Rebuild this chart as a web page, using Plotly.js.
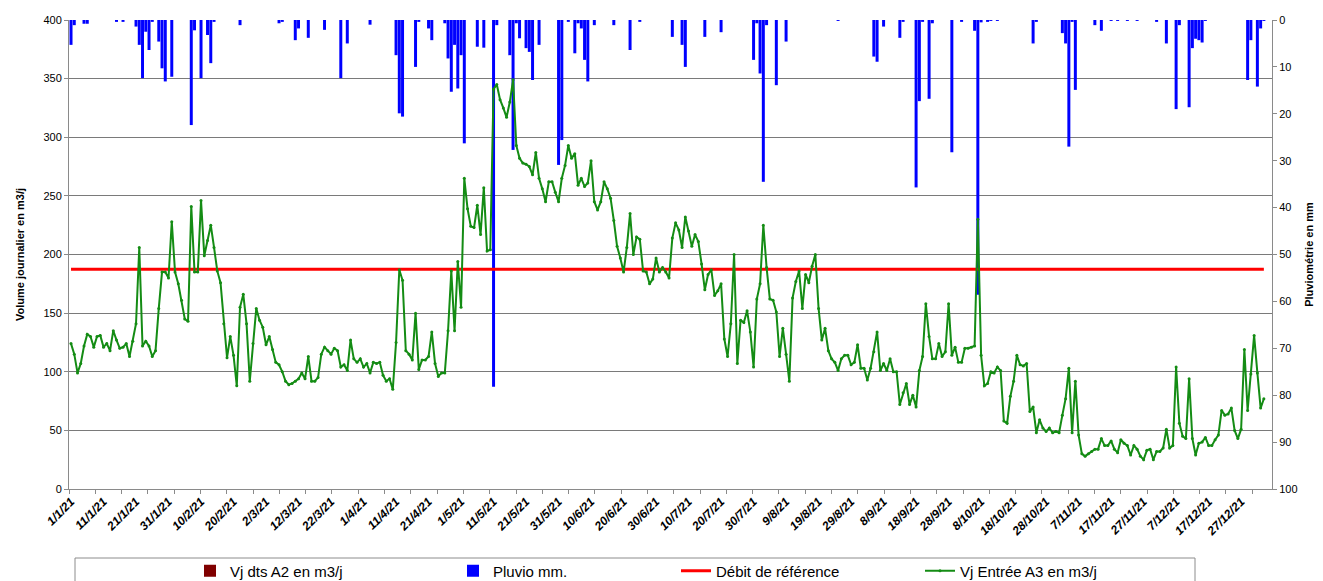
<!DOCTYPE html>
<html>
<head>
<meta charset="utf-8">
<script src="https://cdn.plot.ly/plotly-3.0.1.min.js"></script>
<style>
  html, body { margin: 0; padding: 0; background: #fff; }
  #chart { width: 1323px; height: 581px; }
</style>
</head>
<body>
<div id="chart"></div>
<script>
// daily inflow A3 (m3/j), one value per day from 1/1/21
const volumeA3 = [
  124,115,99,107,122,132,130,121,130,131, 121,124,118,135,127,120,121,124,113,126,
  141,206,122,126,122,113,118,154,185,185, 180,228,185,175,161,145,143,241,185,185,
  246,199,212,225,206,186,
  176,141,112,130,114,88,155,166,141,92, 124,154,144,138,123,130,119,108,106,100,
  92,89,90,92,94,99,94,113,92,92, 95,115,121,118,115,120,118,104,106,101,
  127,111,108,111,104,107,99,
  108,107,108,97,92,94,85,125,187,178, 118,115,110,150,102,110,110,113,134,107,
  96,99,99,135,186,135,194,155,265,239, 224,223,242,217,257,203,204,341,345,332,
  325,317,330,349,293,282,278,
  277,275,268,287,265,256,245,262,262,253, 245,265,276,293,282,286,259,265,258,261,
  280,245,238,245,262,256,248,229,207,197, 185,206,235,200,215,213,186,185,175,179,
  197,185,189,185,180,214,227,221,206,232,
  220,207,217,211,192,170,183,187,165,169, 175,128,113,141,200,107,144,142,152,134,
  104,162,175,225,189,162,161,151,113,137, 115,92,163,177,186,154,183,176,190,200,
  154,127,137,118,111,108,101,
  111,114,114,106,108,123,103,103,93,103, 117,134,101,107,101,111,100,100,72,82,
  90,72,80,70,101,113,158,130,111,111, 124,113,117,158,114,121,108,108,120,120,
  121,122,230,114,88,90,
  100,99,104,101,58,56,79,92,114,106, 105,107,66,70,48,59,52,49,52,48,
  49,48,63,77,103,48,92,46,30,28, 30,32,34,34,43,37,37,41,34,31,
  42,39,37,29,37,34,
  28,25,33,34,25,32,32,35,51,35,37,
  104,56,45,43,94,43,29,39,40,44, 37,37,42,46,67,63,64,69,50,43,
  51,119,67,98,131,99,69,77
];

// rainfall (mm) on rainy days
const rainDates = [
  '2021-01-01','2021-01-02','2021-01-05','2021-01-06','2021-01-15','2021-01-17','2021-01-21','2021-01-22',
  '2021-01-23','2021-01-24','2021-01-25','2021-01-26','2021-01-28','2021-01-29','2021-01-30','2021-02-01',
  '2021-02-07','2021-02-08','2021-02-10','2021-02-12','2021-02-13','2021-02-14','2021-02-22','2021-03-06',
  '2021-03-07','2021-03-11','2021-03-12','2021-03-15','2021-03-20','2021-03-25','2021-03-27','2021-04-03',
  '2021-04-11','2021-04-12','2021-04-13','2021-04-17','2021-04-18','2021-04-21','2021-04-22','2021-04-26',
  '2021-04-27','2021-04-28','2021-04-29','2021-04-30','2021-05-01','2021-05-02','2021-05-06','2021-05-08',
  '2021-05-11','2021-05-12','2021-05-16','2021-05-17','2021-05-18','2021-05-19','2021-05-21','2021-05-22',
  '2021-05-23','2021-05-25','2021-05-31','2021-06-01','2021-06-03','2021-06-05','2021-06-06','2021-06-07',
  '2021-06-08','2021-06-09','2021-06-11','2021-06-17','2021-06-22','2021-06-25','2021-07-05','2021-07-08',
  '2021-07-09','2021-07-15','2021-07-20','2021-07-30','2021-07-31','2021-08-01','2021-08-02','2021-08-03',
  '2021-08-06','2021-08-09','2021-08-25','2021-09-05','2021-09-06','2021-09-08','2021-09-13','2021-09-14',
  '2021-09-18','2021-09-19','2021-09-20','2021-09-22','2021-09-23','2021-09-29','2021-10-02','2021-10-06',
  '2021-10-07','2021-10-08','2021-10-10','2021-10-11','2021-10-13','2021-10-24','2021-10-25','2021-11-02',
  '2021-11-03','2021-11-04','2021-11-05','2021-11-06','2021-11-12','2021-11-14','2021-11-17','2021-11-19',
  '2021-11-22','2021-11-25','2021-12-01','2021-12-04','2021-12-07','2021-12-08','2021-12-11','2021-12-12',
  '2021-12-13','2021-12-14','2021-12-15','2021-12-16','2021-12-29','2021-12-30','2022-01-01','2022-01-02',
  '2022-01-03'
];
const rainMm = [
  5.3,1.1,0.8,0.8,0.4,0.4,1.4,5.3,
  12.4,2.5,6.4,0.4,4.6,10.3,13.1,12.1,
  22.4,2.2,12.4,3.2,9.2,0.4,1.1,0.7,
  0.4,4.3,1.8,3.8,2.1,12.4,5.0,1.0,
  7.5,19.9,20.6,10.0,0.4,1.8,4.3,0.7,
  8.2,15.3,5.3,14.6,7.5,26.3,5.7,5.9,
  78.2,1.1,7.5,27.7,0.7,3.9,6.0,6.8,
  12.8,5.3,30.9,25.6,0.4,7.1,0.7,1.8,
  8.5,13.1,1.1,1.1,6.4,0.4,3.6,5.3,
  10.0,3.6,2.6,8.5,0.7,11.4,34.5,1.1,
  13.9,4.6,0.2,7.8,8.9,1.4,3.8,0.4,
  35.7,17.3,0.4,16.8,0.7,28.2,0.4,2.3,
  58.6,0.5,0.4,0.2,0.2,5.0,0.4,2.8,
  5.0,27.0,0.4,14.9,1.1,2.3,0.2,0.2,
  0.2,0.2,0.4,5.0,19.0,1.1,18.6,6.0,
  4.0,4.3,4.8,0.2,12.8,4.3,14.2,1.8,
  0.2
];

const refValue = 187.5;       // débit de référence
const volumeA2 = [null];      // no values shown for A2

const font = 'Liberation Sans, Arial, sans-serif';
const DAY = 86400000;

let days = volumeA3.map((_, i) => new Date(Date.UTC(2021, 0, 1 + i)).toISOString().slice(0, 10));

var traceA2 = {
    x: days.slice(0, volumeA2.length),
    y: volumeA2,
    type: 'bar',
    yaxis: 'y2',
    name: 'Vj dts A2 en m3/j',
    marker: { color: '#800000' },
    legend: 'legend'
};

var traceRain = {
    x: rainDates,
    y: rainMm,
    type: 'bar',
    yaxis: 'y',
    name: 'Pluvio mm.',
    width: DAY * 0.92,
    marker: { color: '#0000ff', line: { width: 0 } },
    legend: 'legend2'
};

var traceRef = {
    x: [days[0], days[days.length - 1]],
    y: [refValue, refValue],
    type: 'scatter',
    mode: 'lines',
    yaxis: 'y2',
    name: 'Débit de référence',
    line: { color: '#ff0000', width: 3 },
    legend: 'legend3'
};

var traceA3 = {
    x: days,
    y: volumeA3,
    type: 'scatter',
    mode: 'lines+markers',
    yaxis: 'y2',
    name: 'Vj Entrée A3 en m3/j',
    line: { color: '#148c14', width: 2 },
    marker: { color: '#148c14', size: 3 },
    legend: 'legend4'
};

// plot area is 69..1272 px wide, 20..489 px high
function legendAt(px) {
    return {
        x: (px - 69) / 1203, y: -0.175, xanchor: 'left', yanchor: 'middle',
        orientation: 'h', bgcolor: 'rgba(0,0,0,0)',
        font: { family: font, size: 15, color: '#000' }
    };
}

var layout = {
    width: 1323,
    height: 581,
    margin: { l: 69, r: 51, t: 20, b: 92, autoexpand: false },
    paper_bgcolor: '#fff',
    plot_bgcolor: '#fff',
    barmode: 'overlay',
    showlegend: true,
    font: { family: font, color: '#000' },
    xaxis: {
        type: 'date',
        range: ['2020-12-31 09:07', '2022-01-05 12:00'],
        tick0: '2021-01-01',
        dtick: 10 * DAY,
        tickformat: '%-d/%-m/%y',
        tickangle: -45,
        tickfont: { family: font, size: 12, weight: 'bold', style: 'italic', color: '#000' },
        ticks: '',
        showgrid: false,
        showline: true,
        linecolor: '#8a8a8a',
        zeroline: false,
        automargin: false,
        minor: { ticks: 'outside', ticklen: 4, tickcolor: '#8a8a8a', dtick: 8.09 * DAY, tick0: '2020-12-31 09:07', showgrid: false }
    },
    yaxis: {
        side: 'right',
        range: [100, 0],
        tick0: 0,
        dtick: 10,
        ticks: 'outside',
        ticklen: 4,
        tickcolor: '#8a8a8a',
        showgrid: false,
        showline: true,
        linecolor: '#8a8a8a',
        zeroline: false,
        automargin: false,
        tickfont: { family: font, size: 11, color: '#000' },
        title: { text: 'Pluviométrie en mm', font: { family: font, size: 11, weight: 'bold', color: '#000' }, standoff: 8 }
    },
    yaxis2: {
        overlaying: 'y',
        side: 'left',
        range: [0, 400],
        tick0: 0,
        dtick: 50,
        ticks: 'outside',
        ticklen: 4,
        tickcolor: '#8a8a8a',
        showgrid: true,
        gridcolor: '#7a7a7a',
        gridwidth: 1,
        showline: true,
        linecolor: '#8a8a8a',
        zeroline: false,
        automargin: false,
        tickfont: { family: font, size: 11, color: '#000' },
        title: { text: 'Volume journalier en m3/j', font: { family: font, size: 11, weight: 'bold', color: '#000' }, standoff: 16 }
    },
    legend: legendAt(190),
    legend2: legendAt(453),
    legend3: legendAt(676),
    legend4: legendAt(920),
    shapes: [{
        type: 'rect', xref: 'paper', yref: 'paper',
        x0: 6 / 1203, x1: 1126 / 1203, y0: -69 / 469, y1: -140 / 469,
        line: { color: '#8c8c8c', width: 1 }, fillcolor: 'rgba(0,0,0,0)'
    }]
};

var data = [traceA2, traceRain, traceRef, traceA3];

Plotly.newPlot('chart', data, layout, { displayModeBar: false, staticPlot: true });
</script>
</body>
</html>
